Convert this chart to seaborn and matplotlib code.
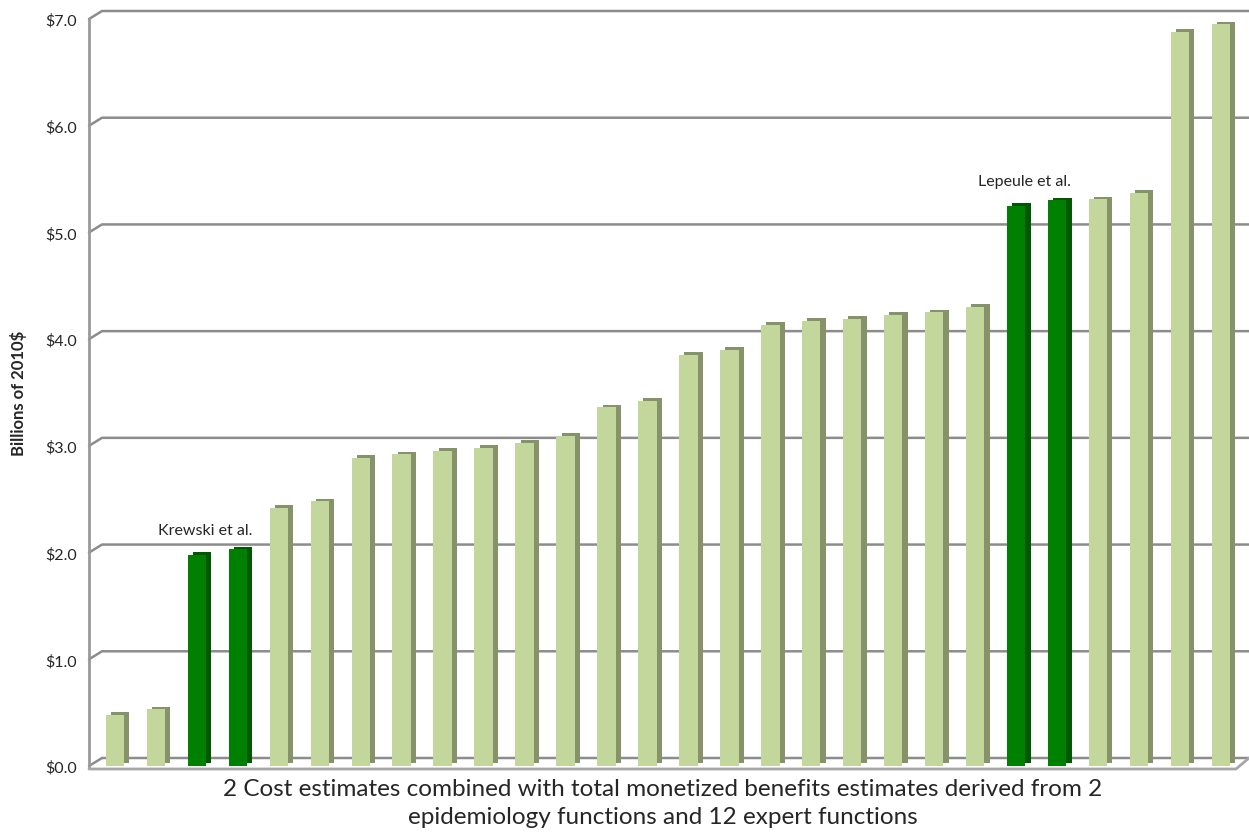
import numpy as np
import pandas as pd
import matplotlib
matplotlib.use("Agg")
import matplotlib.pyplot as plt
import matplotlib.patheffects as pe
from matplotlib.lines import Line2D
from matplotlib.transforms import IdentityTransform
import seaborn as sns

# values (billions of 2010$), sorted low to high
values = [0.48, 0.53, 1.98, 2.03, 2.42, 2.48, 2.89, 2.92, 2.95, 2.98,
          3.03, 3.09, 3.36, 3.42, 3.85, 3.90, 4.13, 4.17, 4.19, 4.23,
          4.25, 4.30, 5.25, 5.30, 5.31, 5.37, 6.88, 6.95]
# which bars are the epidemiology functions (dark green)
groups = ["Expert"] * 28
for i in [2, 3, 22, 23]:
    groups[i] = "Epidemiology"
ann_labels = {"Krewski et al.": [2, 3], "Lepeule et al.": [22, 23]}
ytick_vals = [0, 1, 2, 3, 4, 5, 6, 7]
ytick_labels = ["$%.1f" % v for v in ytick_vals]

df = pd.DataFrame({"pos": [str(i) for i in range(len(values))],
                   "value": values, "group": groups})

sns.set_style("white")
plt.rcParams["font.family"] = ["Lato", "DejaVu Sans"]

fig = plt.figure(figsize=(12.49, 8.37), dpi=100)
ax = fig.add_axes([89 / 1249, 1 - 767 / 837, (1236 - 89) / 1249, (767 - 20) / 837])

light, light_side = "#c3d69b", "#86936a"
dark, dark_side = "#008000", "#005800"

sns.barplot(data=df, x="pos", y="value", hue="group",
            palette={"Expert": light, "Epidemiology": dark},
            dodge=False, width=0.45, saturation=1, legend=False, ax=ax,
            linewidth=0, zorder=3)

for p in ax.patches:
    fc = p.get_facecolor()
    side = dark_side if fc[0] < 0.2 else light_side
    p.set_edgecolor("none")
    p.set_path_effects([pe.SimplePatchShadow(offset=(3.8, 2), shadow_rgbFace=side, alpha=1.0),
                        pe.Normal()])

ax.set_xlim(-0.634, 27.37)
ax.set_ylim(0, 7)
ax.set_yticks(ytick_vals)
ax.set_yticklabels(ytick_labels, fontsize=11.5)
ax.set_xticks([])
ax.set_xlabel("2 Cost estimates combined with total monetized benefits estimates derived from 2\n"
              "epidemiology functions and 12 expert functions", fontsize=17.5, labelpad=9,
              linespacing=1.4)
ax.set_ylabel("Billions of 2010$", fontsize=12, fontweight="bold")
ax.yaxis.set_label_coords(-0.054, 0.5)
ax.tick_params(axis="y", length=5, width=1.5, color="#999999", pad=4)

for s in ["top", "right", "bottom"]:
    ax.spines[s].set_visible(False)
ax.spines["left"].set_color("#999999")
ax.spines["left"].set_linewidth(2)

# back-wall gridlines with a little 3D offset, behind the bars
dx, dy = 13, 8
for v in ytick_vals:
    x0, y0 = ax.transData.transform((ax.get_xlim()[0], v))
    x1, _ = ax.transData.transform((ax.get_xlim()[1], v))
    ax.add_line(Line2D([x0, x0 + dx, x1 + dx], [y0, y0 + dy, y0 + dy],
                       transform=IdentityTransform(), color="#8c8c8c", lw=1.8,
                       zorder=1, clip_on=False))
# front floor edge
x0, y0 = ax.transData.transform((ax.get_xlim()[0], 0))
x1, _ = ax.transData.transform((ax.get_xlim()[1], 0))
ax.add_line(Line2D([x0, x1, x1 + dx], [y0 - 3, y0 - 3, y0 + dy],
                   transform=IdentityTransform(), color="#a6a6a6", lw=2,
                   zorder=5, clip_on=False))

for txt, idx in ann_labels.items():
    xs = np.mean(idx) - 0.3
    ys = max(values[i] for i in idx) + 0.12
    ax.text(xs, ys, txt, ha="center", va="bottom", fontsize=11.5)

fig.savefig("out.png", dpi=100)
